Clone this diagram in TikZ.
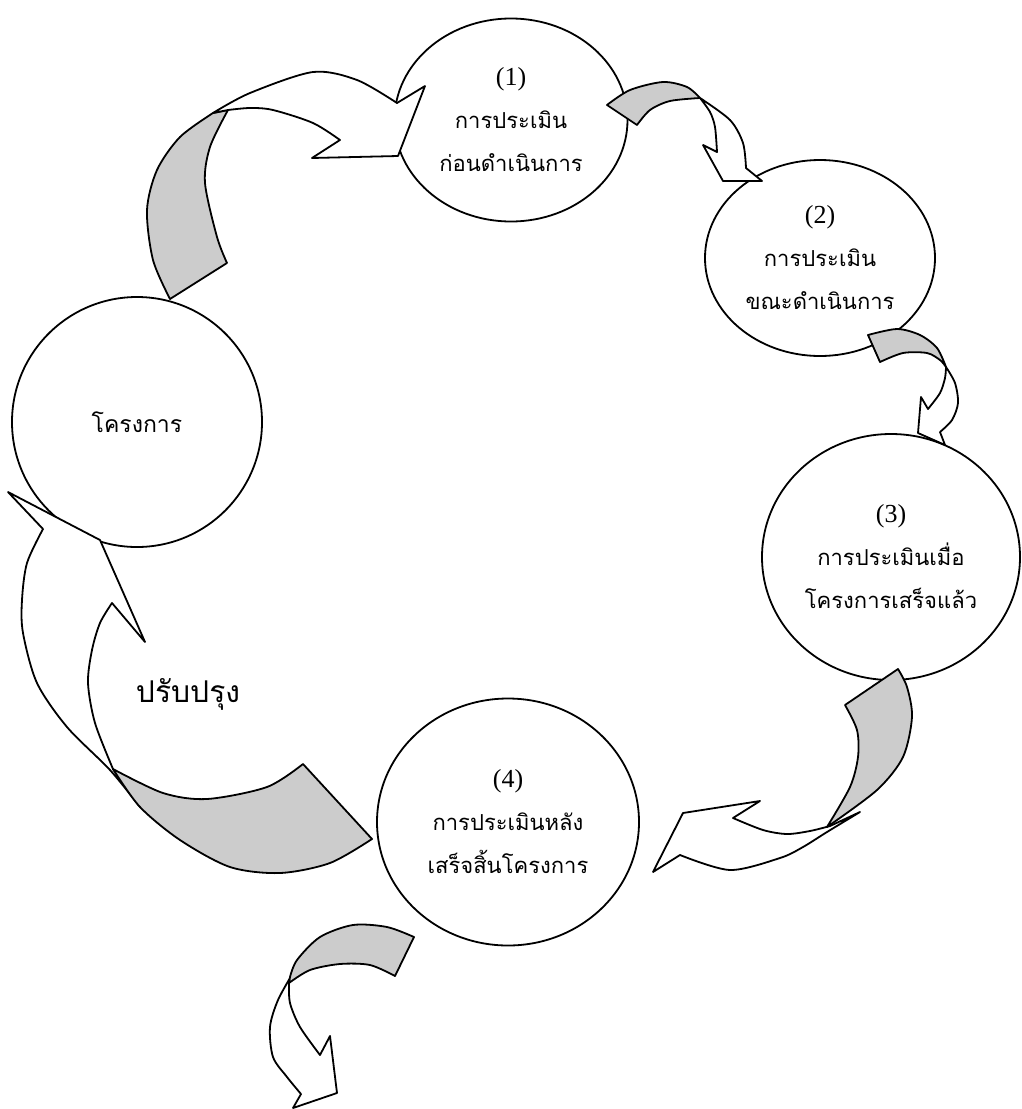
\documentclass[tikz,border=0pt]{standalone}
\usepackage{fontspec}
\setmainfont{Liberation Serif}
\newfontfamily\thaifont[Script=Thai]{Loma}
\usetikzlibrary{shapes.geometric}

\begin{document}
\begin{tikzpicture}[x=0.5pt,y=-0.5pt,
		stage/.style={ellipse,draw,line width=0.9pt,fill=white,inner sep=0pt,align=center,
			font=\fontsize{13}{21.5}\selectfont},
		flap/.style={draw,line width=0.9pt,fill=black!20,line join=round},
		shaft/.style={draw,line width=0.9pt,fill=white,line join=round}]
		\useasboundingbox (0,0) rectangle (1022,1109);

		% the five stages
		\node[stage,minimum width=125pt,minimum height=125pt] (project) at (137,422)
			{{\thaifont\fontsize{11.5}{21.5}\selectfont โครงการ}};
		\node[stage,minimum width=116.5pt,minimum height=101.5pt] (eval1) at (511,120)
			{(1)\\{\thaifont\fontsize{11}{21.5}\selectfont การประเมิน}\\{\thaifont\fontsize{11}{21.5}\selectfont ก่อนดำเนินการ}};
		\node[stage,minimum width=115pt,minimum height=98pt] (eval2) at (820,258)
			{(2)\\{\thaifont\fontsize{11}{21.5}\selectfont การประเมิน}\\{\thaifont\fontsize{11}{21.5}\selectfont ขณะดำเนินการ}};
		\node[stage,minimum width=129pt,minimum height=123pt] (eval3) at (891,557)
			{(3)\\{\thaifont\fontsize{11}{21.5}\selectfont การประเมินเมื่อ}\\{\thaifont\fontsize{11}{21.5}\selectfont โครงการเสร็จแล้ว}};
		\node[stage,minimum width=131pt,minimum height=123.5pt] (eval4) at (508,822)
			{(4)\\{\thaifont\fontsize{11}{21.5}\selectfont การประเมินหลัง}\\{\thaifont\fontsize{11}{21.5}\selectfont เสร็จสิ้นโครงการ}};
		\node[font=\thaifont\fontsize{15}{18}\selectfont] (improve) at (188,694) {ปรับปรุง};

		% project -> (1)
		\filldraw[flap] plot[smooth] coordinates {(170,299) (153,260) (147,210) (157,170) (180,137) (213,113)}
			-- plot[smooth] coordinates {(228,110) (210,147) (205,183) (217,237) (227,263)} -- cycle;
		\filldraw[shaft] plot[smooth] coordinates {(213,113) (250,93) (313,72) (357,80) (397,103)}
			-- (425,86) -- (398,156) -- (312,158) -- (340,140)
			-- plot[smooth] coordinates {(340,140) (313,123) (273,110) (250,108) (228,110)} -- cycle;

		% (1) -> (2)
		\filldraw[flap] plot[smooth] coordinates {(607,105) (630,90) (663,82) (687,87) (700,98)}
			-- plot[smooth] coordinates {(700,98) (670,101) (650,110) (637,125)} -- cycle;
		\filldraw[shaft] plot[smooth] coordinates {(700,98) (730,120) (743,143) (746,168)}
			-- (762,181) -- (723,181) -- (703,145) -- (717,152)
			-- plot[smooth] coordinates {(717,152) (715,127) (710,112) (700,98)} -- cycle;

		% (2) -> (3)
		\filldraw[flap] plot[smooth] coordinates {(868,335) (897,329) (920,335) (937,348) (946,367)}
			-- plot[smooth] coordinates {(946,367) (940,360) (927,353) (903,353) (880,362)} -- cycle;
		\filldraw[shaft] plot[smooth] coordinates {(946,367) (955,383) (958,403) (952,420) (940,432)}
			-- (945,445) -- (918,433) -- (921,397) -- (928,409)
			-- plot[smooth] coordinates {(928,409) (940,393) (945,378) (946,367)} -- cycle;

		% (3) -> (4)
		\filldraw[shaft] plot[smooth] coordinates {(860,812) (827,832) (803,847) (780,858) (730,870) (680,855)}
			-- (653,872) -- (683,813) -- (760,801) -- (733,818)
			-- plot[smooth] coordinates {(733,818) (763,830) (787,834) (810,831) (830,826)} -- cycle;
		\filldraw[flap] (845,705) -- (898,669)
			-- plot[smooth] coordinates {(898,669) (907,687) (912,717) (903,757) (877,790) (827,827)}
			-- plot[smooth] coordinates {(827,827) (850,787) (858,757) (857,730) (845,705)} -- cycle;

		% (4) -> project
		\filldraw[shaft] plot[smooth] coordinates {(140,807) (110,770) (67,727) (37,683) (23,633) (22,600) (27,563) (43,529)}
			-- (8,492) -- (100,540) -- (145,642) -- (112,603)
			-- plot[smooth] coordinates {(112,603) (100,623) (92,650) (88,683) (95,723) (113,769)} -- cycle;
		\filldraw[flap] (303,764) -- (372,839)
			-- plot[smooth] coordinates {(372,839) (330,863) (280,873) (230,867) (180,840) (140,807) (113,769)}
			-- plot[smooth] coordinates {(113,769) (163,793) (207,799) (267,787) (303,764)} -- cycle;

		% (4) -> onwards
		\filldraw[shaft] plot[smooth] coordinates {(293,973) (278,1000) (270,1027) (273,1057) (287,1077) (301,1094)}
			-- (293,1108) -- (337,1093) -- (330,1036) -- (320,1055)
			-- plot[smooth] coordinates {(320,1055) (300,1027) (290,1003) (289,983)} -- cycle;
		\filldraw[flap] plot[smooth] coordinates {(414,937) (387,927) (353,925) (320,937) (297,960) (290,977)}
			-- plot[smooth] coordinates {(289,983) (310,970) (340,964) (370,965) (395,976)} -- cycle;
	\end{tikzpicture}
\end{document}
